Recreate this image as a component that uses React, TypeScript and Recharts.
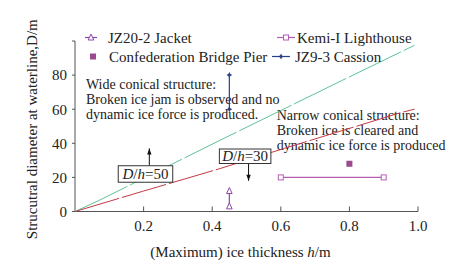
import React from "react";
import {
  ScatterChart,
  Scatter,
  XAxis,
  YAxis,
  Legend,
  ReferenceLine,
  ReferenceDot,
} from "recharts";

const FONT = '"Liberation Serif", "Times New Roman", serif';
const TEXT = "#222";
const AXIS = "#555";

// h = ice thickness (m), D = structural diameter (m)
const jacketPoints = [
  { h: 0.45, D: 3 },
  { h: 0.45, D: 12 },
];
const kemiPoints = [
  { h: 0.6, D: 20 },
  { h: 0.9, D: 20 },
];
const confederationPoints = [{ h: 0.8, D: 28 }];
const cassionPoints = [
  { h: 0.45, D: 60 },
  { h: 0.45, D: 80 },
];

// boundary curves
const upperBoundary = [
  { h: 0, D: 0 },
  { h: 0.07, D: 6.5 },
  { h: 0.42, D: 41.5 },
  { h: 0.78, D: 77 },
  { h: 0.99, D: 97.5 },
];
const lowerBoundary = [
  { h: 0, D: 0 },
  { h: 0.1, D: 6 },
  { h: 0.2, D: 12 },
  { h: 0.42, D: 25 },
  { h: 0.61, D: 37 },
  { h: 0.78, D: 47.5 },
  { h: 0.95, D: 58 },
  { h: 0.99, D: 60 },
];

// where the D/h tags sit
const tag50Anchor = [{ h: 0.2055, D: 22 }];
const tag30Anchor = [{ h: 0.496, D: 32.4 }];

const xTicks = [0.2, 0.4, 0.6, 0.8, 1.0];
const yTicks = [0, 20, 40, 60, 80, 100];

const wideText = [
  "Wide conical structure:",
  "Broken ice jam is observed and no",
  "dynamic ice force is produced.",
];
const narrowText = [
  "Narrow conical structure:",
  "Broken ice is cleared and",
  "dynamic ice force is produced",
];

type Kind = "triangle" | "square" | "filledSquare" | "star";

const series: { name: string; data: { h: number; D: number }[]; color: string; kind: Kind; line: boolean }[] = [
  { name: "JZ20-2 Jacket", data: jacketPoints, color: "#8a48aa", kind: "triangle", line: true },
  { name: "Kemi-I Lighthouse", data: kemiPoints, color: "#b25fb3", kind: "square", line: true },
  { name: "Confederation Bridge Pier", data: confederationPoints, color: "#9a4a8e", kind: "filledSquare", line: false },
  { name: "JZ9-3 Cassion", data: cassionPoints, color: "#2b3f86", kind: "star", line: true },
];

const drawMarker = (kind: Kind, cx: number, cy: number, color: string) => {
  switch (kind) {
    case "triangle":
      return (
        <polygon
          points={`${cx},${cy - 3.5} ${cx - 2.8},${cy + 2.5} ${cx + 2.8},${cy + 2.5}`}
          fill="#fff"
          stroke={color}
          strokeWidth={1}
        />
      );
    case "square":
      return <rect x={cx - 2.5} y={cy - 2.5} width={5} height={5} fill="#fff" stroke={color} strokeWidth={1} />;
    case "filledSquare":
      return <rect x={cx - 3} y={cy - 3} width={6} height={6} fill={color} />;
    default:
      return (
        <polygon
          points={`${cx},${cy - 3} ${cx + 1},${cy - 1} ${cx + 3},${cy} ${cx + 1},${cy + 1} ${cx},${cy + 3} ${cx - 1},${cy + 1} ${cx - 3},${cy} ${cx - 1},${cy - 1}`}
          fill={color}
        />
      );
  }
};

const makeShape = (kind: Kind, color: string) => (props: any) => (
  <g>{drawMarker(kind, props.cx, props.cy, color)}</g>
);
const noDot = () => <g />;

// legend slots: marker centre, half line length, text start, row centre
const legendSlots = [
  { mx: 91, half: 6, tx: 108, y: 37.5 },
  { mx: 286, half: 9, tx: 297, y: 37.5 },
  { mx: 93, half: 0, tx: 109, y: 56.5 },
  { mx: 281, half: 9, tx: 295, y: 56.5 },
];

const LegendContent = () => (
  <svg width={466} height={70} style={{ display: "block" }}>
    {series.map((s, i) => {
      const slot = legendSlots[i];
      return (
        <g key={s.name}>
          {s.line && (
            <line x1={slot.mx - slot.half} x2={slot.mx + slot.half} y1={slot.y} y2={slot.y} stroke={s.color} strokeWidth={1.2} />
          )}
          {drawMarker(s.kind, slot.mx, slot.y, s.color)}
          <text x={slot.tx} y={slot.y + 5} fontSize={15} fontFamily={FONT} fill={TEXT}>
            {s.name}
          </text>
        </g>
      );
    })}
  </svg>
);

const XTick = (props: any) => {
  const { x, y, payload } = props;
  return (
    <g>
      <line x1={x} x2={x} y1={y} y2={y - 5} stroke={AXIS} />
      <text x={x} y={y + 19} textAnchor="middle" fontSize={15} style={{ fontFamily: FONT }} fill={TEXT}>
        {Number(payload.value).toFixed(1)}
      </text>
    </g>
  );
};

const XTitle = (props: any) => {
  const vb = props.viewBox;
  return (
    <text x={vb.x + vb.width / 2 - 6} y={vb.y + 45.5} textAnchor="middle" fontSize={15} style={{ fontFamily: FONT }} fill={TEXT}>
      (Maximum) ice thickness <tspan fontStyle="italic">h</tspan>/m
    </text>
  );
};

const YTitle = (props: any) => {
  const vb = props.viewBox;
  const cx = vb.x - 3;
  const cy = vb.y + vb.height / 2 + 3;
  return (
    <text
      x={cx}
      y={cy}
      transform={`rotate(-90 ${cx} ${cy})`}
      textAnchor="middle"
      dominantBaseline="central"
      fontSize={15}
      style={{ fontFamily: FONT }}
      fill={TEXT}
    >
      Strucutral diameter at waterline,D/m
    </text>
  );
};

const paragraph = (lines: string[]) => (props: any) => {
  const vb = props.viewBox;
  return (
    <text fontSize={14} style={{ fontFamily: FONT }} fill={TEXT}>
      {lines.map((l, i) => (
        <tspan key={i} x={vb.x} y={vb.y + i * 15}>
          {l}
        </tspan>
      ))}
    </text>
  );
};

// framed "D/h=.." tag drawn around its anchor point
const ratioTag = (ratio: string, w: number, hgt: number) => (props: any) => {
  const { cx, cy } = props;
  return (
    <g>
      <rect x={cx - w / 2} y={cy - hgt / 2} width={w} height={hgt} fill="#fff" stroke="#333" strokeWidth={1} />
      <text x={cx} y={cy + 5} textAnchor="middle" fontSize={15} style={{ fontFamily: FONT }} fill={TEXT}>
        <tspan fontStyle="italic">D</tspan>/<tspan fontStyle="italic">h</tspan>={ratio}
      </text>
    </g>
  );
};

const arrowHead = (dir: "up" | "down") => (props: any) => {
  const { cx, cy } = props;
  const s = dir === "up" ? 1 : -1;
  return (
    <polygon points={`${cx},${cy} ${cx - 2.2},${cy + s * 6} ${cx + 2.2},${cy + s * 6}`} fill="#111" />
  );
};

export default function App() {
  return (
    <div
      style={{
        position: "absolute",
        left: 0,
        top: 0,
        width: 466,
        height: 269,
        background: "#fff",
        fontFamily: FONT,
      }}
    >
      <ScatterChart
        width={466}
        height={269}
        margin={{ top: 41, right: 48, bottom: 27.5, left: 35 }}
        style={{ fontFamily: FONT }}
      >
        <XAxis
          type="number"
          dataKey="h"
          domain={[0, 1]}
          ticks={xTicks}
          interval={0}
          height={30}
          axisLine={{ stroke: AXIS }}
          tickLine={false}
          tickSize={0}
          tickMargin={0}
          tick={<XTick />}
          label={{ content: XTitle }}
        />
        <YAxis
          type="number"
          dataKey="D"
          domain={[0, 100]}
          ticks={yTicks}
          interval={0}
          width={40}
          axisLine={{ stroke: AXIS }}
          tickLine={{ stroke: AXIS }}
          tickSize={3}
          tickMargin={5}
          tick={{ fontSize: 15, fill: TEXT, fontFamily: FONT, style: { fontFamily: FONT } }}
          tickFormatter={(v: number) => (v === 100 ? "" : String(v))}
          label={{ content: YTitle }}
        />
        <Legend
          layout="horizontal"
          verticalAlign="middle"
          align="center"
          wrapperStyle={{ left: 0, top: 0, width: 466, height: 70 }}
          content={LegendContent}
        />

        <ReferenceDot x={0.032} y={71.6} r={0} fill="none" stroke="none" label={{ content: paragraph(wideText) }} />
        <ReferenceDot x={0.588} y={53.9} r={0} fill="none" stroke="none" label={{ content: paragraph(narrowText) }} />

        <ReferenceLine segment={[{ x: 0.2167, y: 27 }, { x: 0.2167, y: 37 }]} stroke="#111" strokeWidth={1} />
        <ReferenceDot x={0.2167} y={37} r={3} shape={arrowHead("up")} />
        <ReferenceLine segment={[{ x: 0.506, y: 28.3 }, { x: 0.506, y: 18 }]} stroke="#111" strokeWidth={1} />
        <ReferenceDot x={0.506} y={18} r={3} shape={arrowHead("down")} />

        <Scatter
          name="upper"
          data={upperBoundary}
          fill="#5cc495"
          line={{ stroke: "#5cc495", strokeWidth: 1, strokeDasharray: "58 3" }}
          shape={noDot}
          legendType="none"
          isAnimationActive={false}
        />
        <Scatter
          name="lower"
          data={lowerBoundary}
          fill="#c43a44"
          line={{ stroke: "#c43a44", strokeWidth: 1, strokeDasharray: "46 3" }}
          shape={noDot}
          legendType="none"
          isAnimationActive={false}
        />
        {series.map((s) => (
          <Scatter
            key={s.name}
            name={s.name}
            data={s.data}
            fill={s.color}
            line={s.line ? { stroke: s.color, strokeWidth: 1.2 } : false}
            shape={makeShape(s.kind, s.color)}
            isAnimationActive={false}
          />
        ))}
        <Scatter
          name="tag50"
          data={tag50Anchor}
          fill="#333"
          shape={ratioTag("50", 54.5, 16.5)}
          legendType="none"
          isAnimationActive={false}
        />
        <Scatter
          name="tag30"
          data={tag30Anchor}
          fill="#333"
          shape={ratioTag("30", 51.5, 14.5)}
          legendType="none"
          isAnimationActive={false}
        />
      </ScatterChart>
    </div>
  );
}
